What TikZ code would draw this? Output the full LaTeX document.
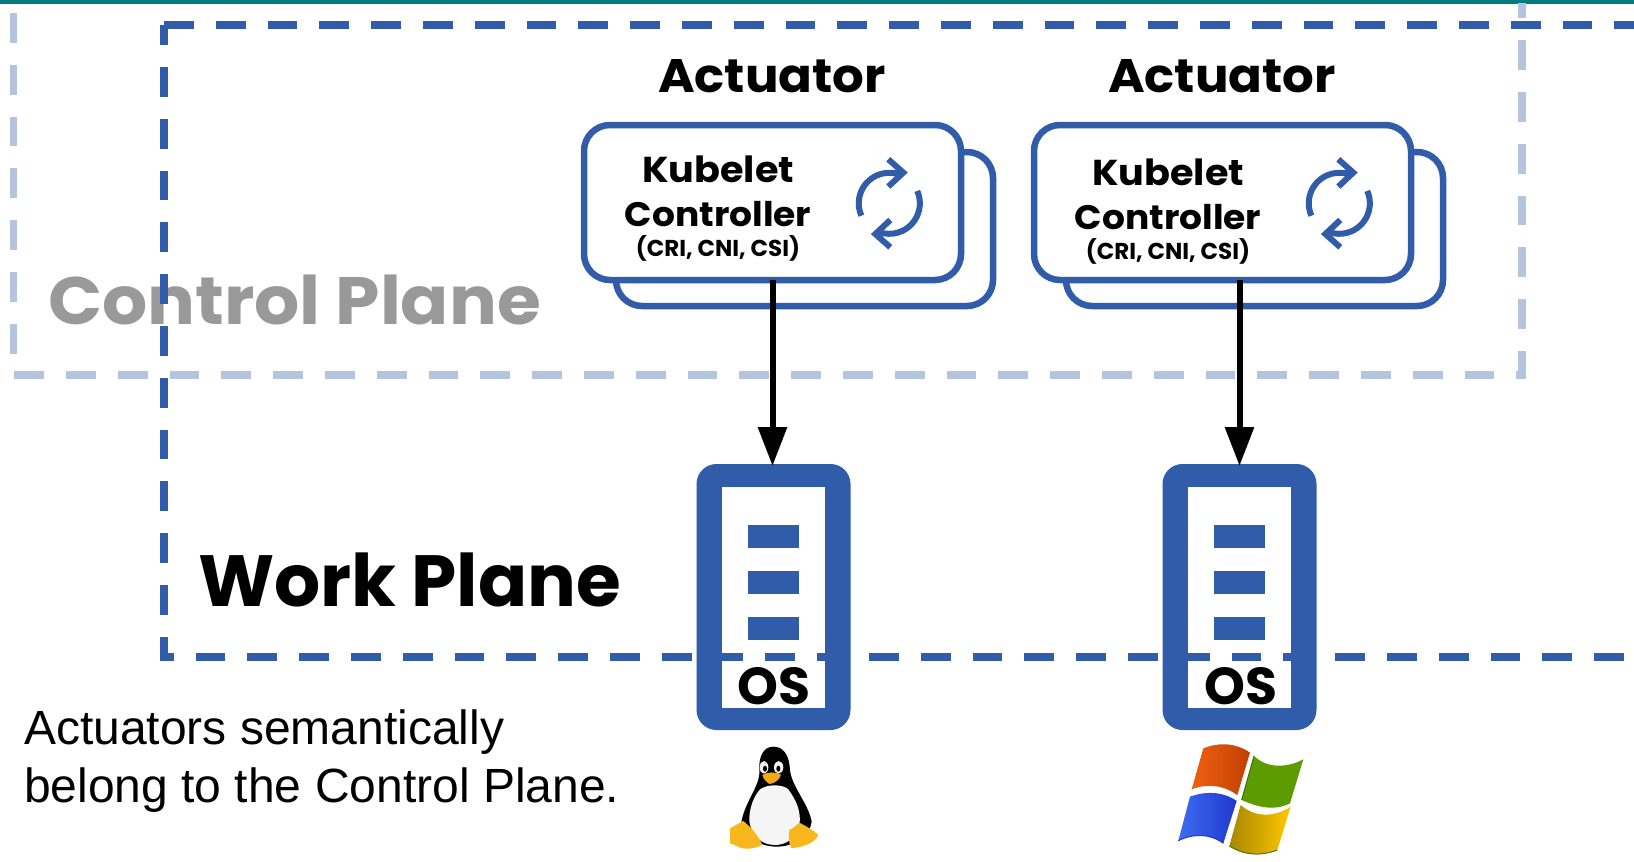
\documentclass[tikz,border=0pt]{standalone}
\usepackage{fontspec}
\usetikzlibrary{arrows.meta}
\setmainfont{Liberation Sans}
\newfontfamily\popp{Poppins}[UprightFont=* Bold]
\newfontfamily\poppw{Poppins}[UprightFont=* Bold,FakeStretch=1.06]
\definecolor{kblue}{HTML}{305CA9}
\definecolor{klight}{HTML}{B4C4DE}
\definecolor{kteal}{HTML}{007A7C}
\definecolor{kgrey}{HTML}{999999}
\definecolor{tuxy}{HTML}{F7B71D}
\definecolor{tuxb}{HTML}{F4A90F}
\tikzset{
  bluedash/.style={draw=kblue,line width=7.5pt,dash pattern=on 29.8pt off 22pt},
  lightdash/.style={draw=klight,line width=7.5pt,dash pattern=on 29.8pt off 22pt},
  kbox/.style={draw=kblue,line width=6.5pt,fill=white,rounded corners=26pt,minimum width=377pt,minimum height=155pt,inner sep=0pt,outer sep=0pt},
  kback/.style={kbox,minimum height=154pt},
  osbox/.style={fill=kblue,rounded corners=20pt,minimum width=154pt,minimum height=266pt,inner sep=0pt,outer sep=0pt},
  osin/.style={fill=white,minimum width=103pt,minimum height=221pt,inner sep=0pt,outer sep=0pt},
  osbar/.style={fill=kblue,minimum width=51pt,minimum height=23pt,inner sep=0pt,outer sep=0pt},
  btxt/.style={inner sep=0pt,outer sep=0pt,anchor=base,font=\popp},
  act/.style={line width=6pt,draw=black,-{Triangle[length=39pt,width=28pt]}},
  cyc/.style={draw=kblue,line width=6pt},
}
\newcommand{\cycicon}[2]{%
  \begin{scope}[shift={(#1,#2)}]
    \draw[cyc] (-27.9,12.4) arc[start angle=204,end angle=80,radius=30.5pt] -- (14,-30.7);
    \draw[cyc,miter limit=10] (-1,-44) -- (14,-30.7) -- (-1,-16.7);
    \draw[cyc] (27.9,-12.4) arc[start angle=24,end angle=-100,radius=30.5pt] -- (-14,30.7);
    \draw[cyc,miter limit=10] (1,44) -- (-14,30.7) -- (1,16.7);
  \end{scope}}
\begin{document}
\begin{tikzpicture}[x=1pt,y=-1pt]
\useasboundingbox (0,0) rectangle (1634,862);
\fill[white] (0,0) rectangle (1634,862);
\fill[kteal] (0,0) rectangle (1634,4);

% plane labels
\node[btxt,anchor=base west,text=kgrey,font=\poppw\fontsize{67}{67}\selectfont] (cplabel) at (48,324) {Control Plane};
\node[btxt,anchor=base west,text=black,font=\popp\fontsize{72.5}{72.5}\selectfont] (wplabel) at (198,606) {Work Plane};

% OS boxes
\node[osbox] (os1) at (773.5,597) {};
\node[osin] (os1in) at (773.5,597.5) {};
\node[osbar] (b11) at (773.5,536.5) {};
\node[osbar] (b12) at (773.5,582.5) {};
\node[osbar] (b13) at (773.5,628) {};
\node[btxt,font=\popp\fontsize{52}{52}\selectfont] (os1t) at (774,704.5) {OS};
\node[osbox] (os2) at (1239.5,597) {};
\node[osin] (os2in) at (1239.5,597.5) {};
\node[osbar] (b21) at (1239.5,536.5) {};
\node[osbar] (b22) at (1239.5,582.5) {};
\node[osbar] (b23) at (1239.5,628) {};
\node[btxt,font=\popp\fontsize{52}{52}\selectfont] (os2t) at (1241,704.5) {OS};

% dashed planes
\draw[lightdash,dash phase=41.8pt] (13.5,3) -- (13.5,375) -- (1522,375) -- (1522,3);
\draw[bluedash] (164,25) -- (1634,25);
\draw[bluedash,dash phase=9.8pt] (164,25) -- (164,657) -- (1634,657);

% actuators
\node[btxt,font=\poppw\fontsize{47}{47}\selectfont] (a1) at (772,92) {Actuator};
\node[btxt,font=\poppw\fontsize{47}{47}\selectfont] (a2) at (1222,92) {Actuator};

\node[kback] (kb1) at (804.5,229) {};
\node[kbox] (k1) at (772.5,202.5) {};
\node[btxt,font=\poppw\fontsize{36}{36}\selectfont] (k1a) at (718,182) {Kubelet};
\node[btxt,font=\poppw\fontsize{34}{34}\selectfont] (k1b) at (718,226) {Controller};
\node[btxt,font=\popp\fontsize{23}{23}\selectfont] (k1c) at (718,256.5) {(CRI, CNI, CSI)};
\cycicon{889.3}{203.3}

\node[kback] (kb2) at (1254.5,229) {};
\node[kbox] (k2) at (1222.5,202.5) {};
\node[btxt,font=\poppw\fontsize{36}{36}\selectfont] (k2a) at (1168,185) {Kubelet};
\node[btxt,font=\poppw\fontsize{34}{34}\selectfont] (k2b) at (1168,229) {Controller};
\node[btxt,font=\popp\fontsize{23}{23}\selectfont] (k2c) at (1168,259.5) {(CRI, CNI, CSI)};
\cycicon{1339.3}{203.3}

\coordinate (t1) at ([yshift=-2pt]k1.south |- os1.north);
\coordinate (s2) at (k2.south -| os2.north);
\coordinate (t2) at ([yshift=-2pt]os2.north);
\draw[act] (k1.south) -- (t1);
\draw[act] (s2) -- (t2);

% note
\node[inner sep=0pt,anchor=base west,font=\fontsize{48}{48}\selectfont] (n1) at (24,744) {Actuators semantically};
\node[inner sep=0pt,anchor=base west,font=\fontsize{48}{48}\selectfont] (n2) at (24,802) {belong to the Control Plane.};

% Tux
\begin{scope}[shift={(680,630)},x=0.3333pt,y=-0.3333pt]
  \fill[black] (280,350) .. controls (250,350) and (235,380) .. (238,425) .. controls (240,470) and (190,520) .. (183,585) .. controls (190,620) and (240,650) .. (290,650) .. controls (340,650) and (390,620) .. (395,575) .. controls (385,520) and (335,470) .. (330,420) .. controls (328,375) and (310,350) .. (280,350) -- cycle;
  \fill[white!96!black] (240,478) .. controls (262,462) and (308,462) .. (325,478) .. controls (348,510) and (365,545) .. (358,585) .. controls (348,628) and (315,645) .. (285,645) .. controls (245,645) and (215,618) .. (208,575) .. controls (206,540) and (220,500) .. (240,478) -- cycle;
  \fill[white!90!gray] (252,412) ellipse (13 and 19);
  \fill[white!90!gray] (296,412) ellipse (14 and 19);
  \fill[black] (255,416) ellipse (6 and 9);
  \fill[black] (295,416) ellipse (6 and 9);
  \fill[tuxb] (247,435) .. controls (260,425) and (290,425) .. (303,434) .. controls (298,450) and (285,460) .. (268,462) .. controls (258,455) and (250,447) .. (247,435) -- cycle;
  \fill[tuxy] (150,595) -- (190,573) .. controls (210,590) and (235,615) .. (247,645) .. controls (225,655) and (195,662) .. (175,650) -- (150,640) -- cycle;
  \fill[tuxy] (328,600) .. controls (340,595) and (350,585) .. (358,578) .. controls (380,590) and (400,600) .. (415,615) .. controls (405,640) and (370,650) .. (335,655) .. controls (325,640) and (325,620) .. (328,600) -- cycle;
\end{scope}

% Windows flag
\begin{scope}[shift={(1140,630)},x=0.3333pt,y=-0.3333pt]
  \definecolor{wo1}{HTML}{F0600F}\definecolor{wo2}{HTML}{FBA868}\definecolor{wo3}{HTML}{C04005}
  \definecolor{wg1}{HTML}{5C9C00}\definecolor{wg2}{HTML}{9CF000}\definecolor{wg3}{HTML}{5C9C00}
  \definecolor{wb1}{HTML}{3F6CF0}\definecolor{wb2}{HTML}{9AB0FA}\definecolor{wb3}{HTML}{2038D0}
  \definecolor{wy1}{HTML}{A88600}\definecolor{wy2}{HTML}{F8D438}\definecolor{wy3}{HTML}{FFC800}
  \shade[left color=wo1,middle color=wo2,right color=wo3] (190,355) .. controls (240,335) and (290,340) .. (330,368) -- (292,495) .. controls (250,465) and (200,460) .. (155,478) -- cycle;
  \shade[left color=wg1,middle color=wg2,right color=wg3] (342,378) .. controls (380,415) and (440,415) .. (490,388) -- (450,520) .. controls (400,545) and (350,530) .. (305,510) -- cycle;
  \shade[left color=wb1,middle color=wb2,right color=wb3] (150,500) .. controls (200,482) and (250,485) .. (290,513) -- (250,640) .. controls (210,610) and (160,610) .. (115,632) -- cycle;
  \shade[left color=wy1,middle color=wy2,right color=wy3] (302,525) .. controls (340,560) and (400,565) .. (452,530) -- (412,660) .. controls (360,680) and (310,675) .. (268,648) -- cycle;
  \draw[wg1!70!black,line width=1pt] (342,378) -- (305,510);
  \draw[wb3,line width=1pt] (250,640) .. controls (210,610) and (160,610) .. (115,632);
  \draw[wy1!70!green!70!black,line width=1pt] (412,660) .. controls (360,680) and (310,675) .. (268,648);
\end{scope}
\end{tikzpicture}
\end{document}
